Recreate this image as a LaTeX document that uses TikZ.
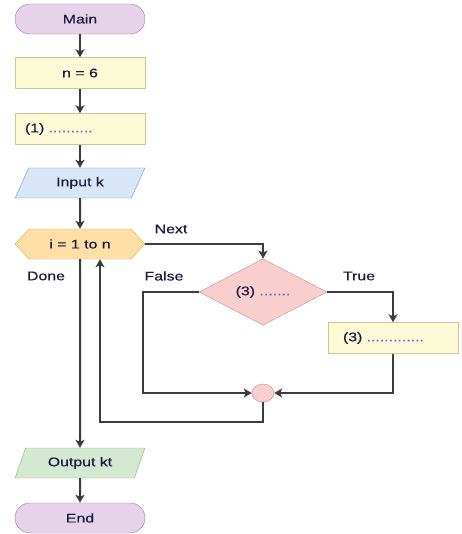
\documentclass[tikz,border=0pt]{standalone}
\usepackage{fontspec}
\setmainfont[FakeStretch=1.27, FakeBold=0.4]{Liberation Sans}
\usetikzlibrary{shapes.geometric,shapes.symbols,arrows.meta}
\definecolor{ink}{HTML}{1A1A40}
\definecolor{dots}{HTML}{6A6AB8}
\definecolor{line}{HTML}{3C3C3C}
\definecolor{purfill}{HTML}{E6D3EA}\definecolor{purdraw}{HTML}{9A78AA}
\definecolor{yelfill}{HTML}{FCF9D6}\definecolor{yeldraw}{HTML}{CFC592}
\definecolor{blufill}{HTML}{D8E6F8}\definecolor{bludraw}{HTML}{7090C0}
\definecolor{orafill}{HTML}{FFDFA6}\definecolor{oradraw}{HTML}{D9A64E}
\definecolor{redfill}{HTML}{F8CECE}\definecolor{reddraw}{HTML}{C98585}
\definecolor{grefill}{HTML}{D5E8D2}\definecolor{gredraw}{HTML}{86B36C}

\begin{document}
\begin{tikzpicture}[x=1pt, y=-1pt,
	every node/.style={font=\fontsize{12.5}{14}\selectfont, text=ink},
	term/.style={draw=purdraw, fill=purfill, rounded corners=15pt, minimum width=130pt, minimum height=30pt},
	proc/.style={draw=yeldraw, fill=yelfill, minimum width=130pt, minimum height=31pt},
	io/.style={trapezium, trapezium left angle=62, trapezium right angle=118, trapezium stretches=true, minimum width=130pt, minimum height=30pt, inner sep=0pt},
	arr/.style={-{Stealth[length=8pt, width=9pt, inset=2pt]}, line width=2pt, color=line},
	lab/.style={fill=white, inner sep=1pt}]
	\useasboundingbox (0,0) rectangle (461,534);
	% main column
	\node[term] (main) at (80,19) {Main};
	\node[proc] (nsix) at (80,73) {n = 6};
	\node[proc, text width=110pt, align=left] (stepone) at (80,129) {(1) \textcolor{dots}{..........}};
	\node[io, draw=bludraw, fill=blufill] (inp) at (80,183) {Input k};
	\node[signal, signal to=west and east, signal pointer angle=94, draw=oradraw, fill=orafill, minimum width=130pt, minimum height=30pt, inner sep=0pt] (loop) at (80,244) {i = 1 to n};
	\node[io, draw=gredraw, fill=grefill] (outp) at (80,463) {Output kt};
	\node[term] (finish) at (80,518) {End};
	% branch
	\node[diamond, draw=reddraw, fill=redfill, minimum width=128pt, minimum height=46pt, inner sep=0pt] (cond) at (263,292) {(3) \textcolor{dots}{.......}};
	\node[proc, text width=100pt, align=left] (act) at (393,338) {(3) \textcolor{dots}{.............}};
	\node[ellipse, draw=reddraw, fill=redfill, minimum width=22pt, minimum height=18pt, inner sep=0pt] (join) at (263,393) {};
	% labels
	\node[lab] (lnext) at (171,229) {Next};
	\node[lab] (lfalse) at (164,276) {False};
	\node[lab] (ltrue) at (359,276) {True};
	\node[lab] (ldone) at (46,276) {Done};
	% bends
	\coordinate (fbend) at (143,292);
	\coordinate (back1) at (263,422);
	\coordinate (back2) at (100,422);
	% connectors
	\draw[arr] (main) -- (nsix);
	\draw[arr] (nsix) -- (stepone);
	\draw[arr] (stepone) -- (inp);
	\draw[arr] (inp) -- (loop);
	\draw[arr] (loop.east) -| (cond.north);
	\draw[arr] (cond.west) -- (fbend) |- (join.west);
	\draw[arr] (cond.east) -| (act.north);
	\draw[arr] (act.south) |- (join.east);
	\draw[arr] (join.south) -- (back1) -- (back2) -- (back2 |- loop.south);
	\draw[arr] (loop.south) -- (outp);
	\draw[arr] (outp) -- (finish);
\end{tikzpicture}
\end{document}
